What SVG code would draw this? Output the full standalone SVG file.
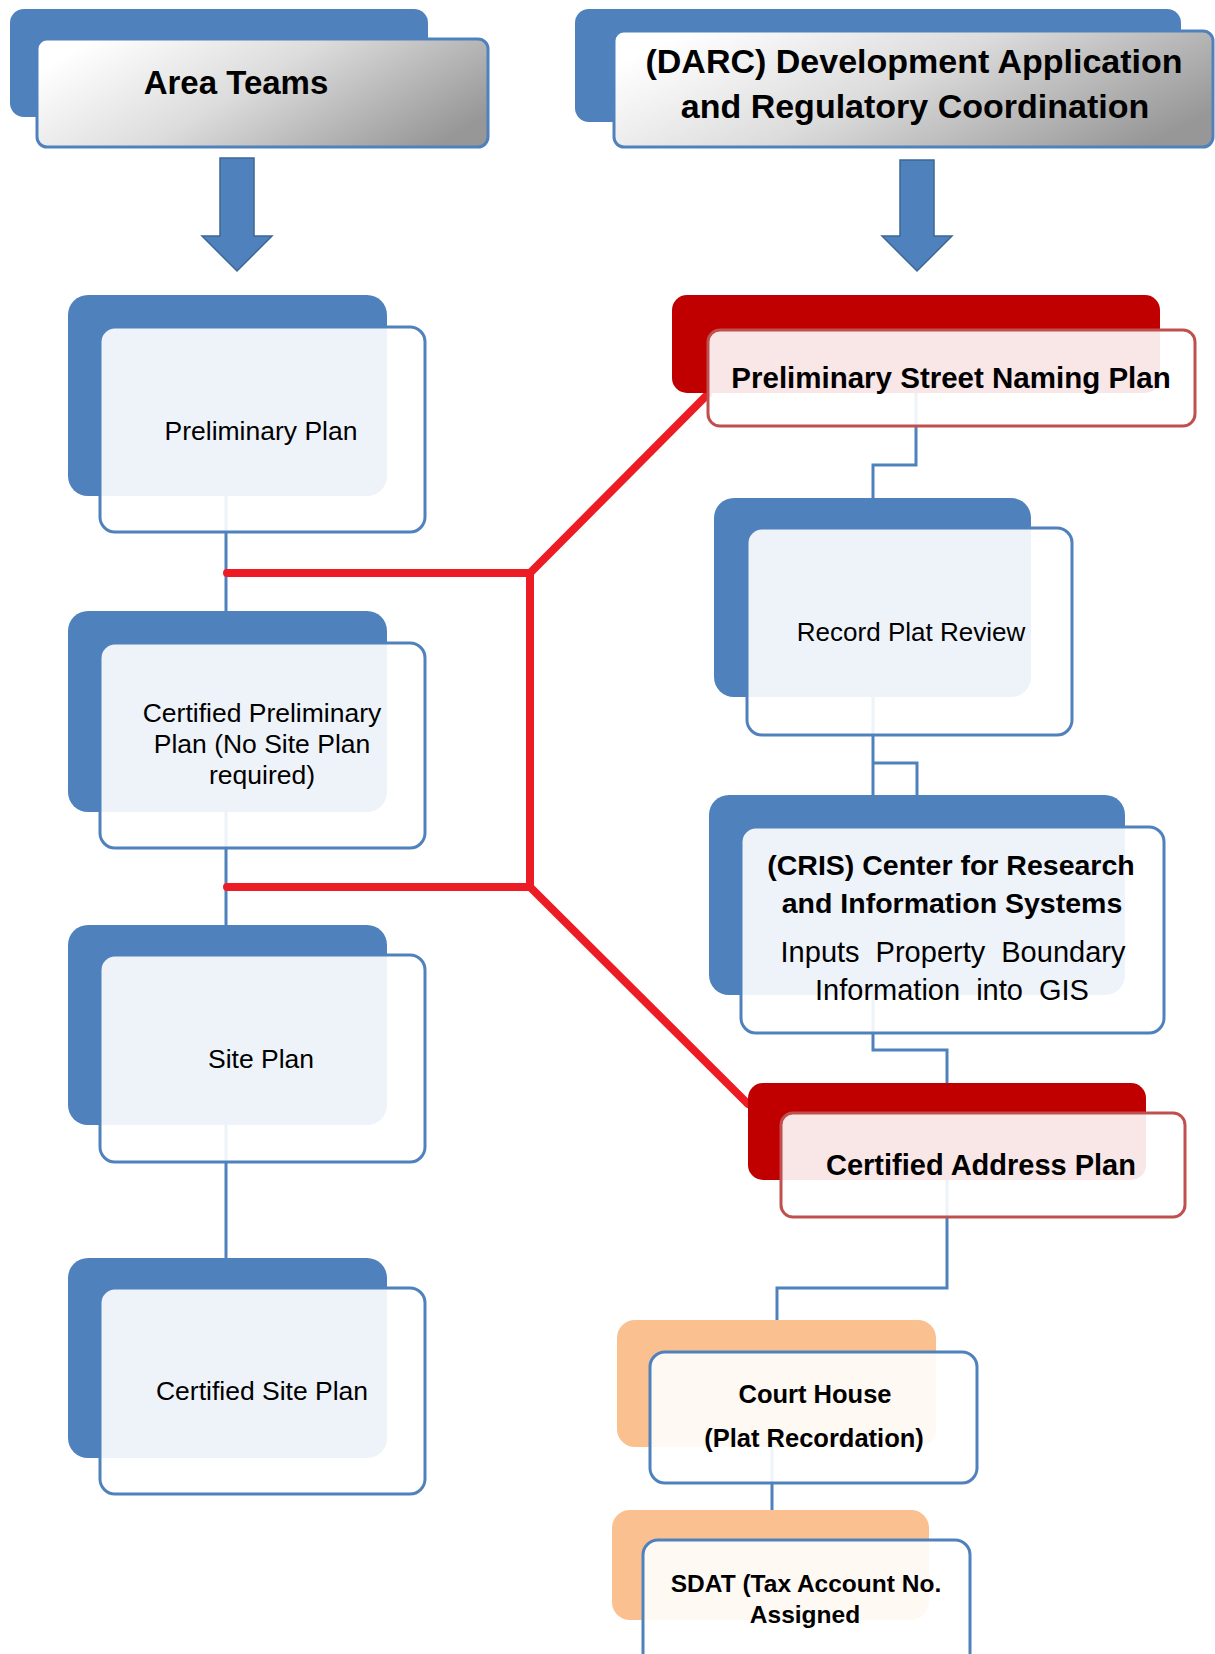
<svg xmlns="http://www.w3.org/2000/svg" width="1215" height="1654" viewBox="0 0 1215 1654">
<style>
  .bg{fill:#ffffff}
  .back-blue{fill:#4F81BD}
  .back-red{fill:#C00000}
  .back-orange{fill:#FAC090}
  .front{fill:#ffffff;fill-opacity:0.9;stroke:#4F81BD;stroke-width:3}
  .front-red{fill:#ffffff;fill-opacity:0.9;stroke:#C0504D;stroke-width:3}
  .hdr{fill:url(#hdrGrad);stroke:#4F81BD;stroke-width:3}
  .arrow{fill:#4F81BD;stroke:#3C6796;stroke-width:1.5}
  .conn{fill:none;stroke:#4F81BD;stroke-width:3}
  .red{fill:none;stroke:#ED1C24;stroke-width:8;stroke-linejoin:miter;stroke-linecap:round}
  text{font-family:"Liberation Sans",Arial,sans-serif;fill:#000;text-anchor:middle}
  .b{font-weight:bold}
  .reg{font-size:26.5px}
</style>
<defs>
  <linearGradient id="hdrGrad" x1="0" y1="0.3" x2="1" y2="0.7">
    <stop offset="0" stop-color="#FFFFFF"/>
    <stop offset="0.45" stop-color="#DCDCDC"/>
    <stop offset="1" stop-color="#979797"/>
  </linearGradient>
</defs>
<rect class="bg" x="0" y="0" width="1215" height="1654"/>

<g id="connectors">
  <path class="conn" d="M226,496 V611"/>
  <path class="conn" d="M226,812 V925"/>
  <path class="conn" d="M226,1125 V1258"/>
  <path class="conn" d="M916,393 V465 H873 V498"/>
  <path class="conn" d="M873,697 V795 M873,763 H917 V795"/>
  <path class="conn" d="M873,995 V1050 H947 V1083"/>
  <path class="conn" d="M947,1180 V1288 H777 V1320"/>
  <path class="conn" d="M772,1447 V1510"/>
  <path class="red" d="M227,573 H530 L708,394"/>
  <path class="red" d="M530,573 V887"/>
  <path class="red" d="M227,887 H530 L748,1104"/>
  <polygon class="arrow" points="220,158 254,158 254,236 272,236 237,271 202,236 220,236"/>
  <polygon class="arrow" points="900,160 934,160 934,236 952,236 917,271 882,236 900,236"/>
</g>

<g id="area-teams">
  <rect class="back-blue" x="10" y="9" width="418" height="108" rx="14"/>
  <rect class="hdr" x="37" y="39" width="451" height="108" rx="10"/>
  <text class="b" x="236" y="94" font-size="33">Area Teams</text>
</g>

<g id="darc">
  <rect class="back-blue" x="575" y="9" width="606" height="113" rx="14"/>
  <rect class="hdr" x="614" y="31" width="599" height="116" rx="10"/>
  <text class="b" x="914" y="73" font-size="34">(DARC) Development Application</text>
  <text class="b" x="915" y="118" font-size="34">and Regulatory Coordination</text>
</g>

<g id="preliminary-plan">
  <rect class="back-blue" x="68" y="295" width="319" height="201" rx="20"/>
  <rect class="front" x="100" y="327" width="325" height="205" rx="15"/>
  <text class="reg" x="261" y="440">Preliminary Plan</text>
</g>

<g id="certified-preliminary-plan">
  <rect class="back-blue" x="68" y="611" width="319" height="201" rx="20"/>
  <rect class="front" x="100" y="643" width="325" height="205" rx="15"/>
  <text class="reg" x="262" y="722">Certified Preliminary</text>
  <text class="reg" x="262" y="753">Plan (No Site Plan</text>
  <text class="reg" x="262" y="784">required)</text>
</g>

<g id="site-plan">
  <rect class="back-blue" x="68" y="925" width="319" height="200" rx="20"/>
  <rect class="front" x="100" y="955" width="325" height="207" rx="15"/>
  <text class="reg" x="261" y="1068">Site Plan</text>
</g>

<g id="certified-site-plan">
  <rect class="back-blue" x="68" y="1258" width="319" height="200" rx="20"/>
  <rect class="front" x="100" y="1288" width="325" height="206" rx="15"/>
  <text class="reg" x="262" y="1400">Certified Site Plan</text>
</g>

<g id="preliminary-street-naming-plan">
  <rect class="back-red" x="672" y="295" width="488" height="98" rx="15"/>
  <rect class="front-red" x="708" y="330" width="487" height="96" rx="12"/>
  <text class="b" x="951" y="388" font-size="29.5">Preliminary Street Naming Plan</text>
</g>

<g id="record-plat-review">
  <rect class="back-blue" x="714" y="498" width="317" height="199" rx="20"/>
  <rect class="front" x="747" y="528" width="325" height="207" rx="15"/>
  <text x="911" y="641" font-size="26">Record Plat Review</text>
</g>

<g id="cris">
  <rect class="back-blue" x="709" y="795" width="416" height="200" rx="20"/>
  <rect class="front" x="741" y="827" width="423" height="206" rx="15"/>
  <text class="b" x="951" y="875" font-size="28.5">(CRIS) Center for Research</text>
  <text class="b" x="952" y="913" font-size="28.5">and Information Systems</text>
  <text x="953" y="962" font-size="29" word-spacing="8">Inputs Property Boundary</text>
  <text x="952" y="1000" font-size="29" word-spacing="8">Information into GIS</text>
</g>

<g id="certified-address-plan">
  <rect class="back-red" x="748" y="1083" width="398" height="97" rx="15"/>
  <rect class="front-red" x="781" y="1113" width="404" height="104" rx="12"/>
  <text class="b" x="981" y="1175" font-size="29">Certified Address Plan</text>
</g>

<g id="court-house">
  <rect class="back-orange" x="617" y="1320" width="319" height="127" rx="18"/>
  <rect class="front" x="650" y="1352" width="327" height="131" rx="15"/>
  <text class="b" x="815" y="1403" font-size="25.5">Court House</text>
  <text class="b" x="814" y="1447" font-size="25.5">(Plat Recordation)</text>
</g>

<g id="sdat">
  <rect class="back-orange" x="612" y="1510" width="317" height="110" rx="18"/>
  <rect class="front" x="643" y="1540" width="327" height="150" rx="15"/>
  <text class="b" x="806" y="1592" font-size="24.5">SDAT (Tax Account No.</text>
  <text class="b" x="805" y="1623" font-size="24.5">Assigned</text>
</g>
</svg>
